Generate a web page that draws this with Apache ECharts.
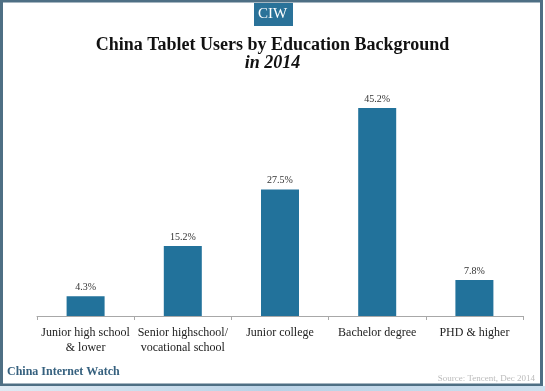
<!DOCTYPE html>
<html><head><meta charset="utf-8">
<style>html,body{margin:0;padding:0;background:#fff;}#c{width:545px;height:391px;}</style>
<script src="https://cdn.jsdelivr.net/npm/echarts@6/dist/echarts.min.js"></script>
</head><body><div id="c"></div>
<script>
var categories = ['Junior high school\n& lower', 'Senior highschool/\nvocational school', 'Junior college', 'Bachelor degree', 'PHD & higher'];
var values = [4.3, 15.2, 27.5, 45.2, 7.8];

var chart = echarts.init(document.getElementById('c'), null, {renderer: 'canvas'});
var serif = '"Liberation Serif", "DejaVu Serif", serif';
chart.setOption({
  backgroundColor: '#fff',
  animation: false,
  title: {
    text: 'China Tablet Users by Education Background',
    subtext: 'in 2014',
    left: 'center', top: 31, itemGap: 0,
    textStyle: {fontFamily: serif, fontWeight: 'bold', fontSize: 18, color: '#111'},
    subtextStyle: {fontFamily: serif, fontWeight: 'bold', fontStyle: 'italic', fontSize: 18, color: '#111'}
  },
  grid: {left: 37, right: 22, top: 86, bottom: 75},
  xAxis: {
    type: 'category', data: categories,
    axisLine: {lineStyle: {color: '#a8a8a8', width: 1}},
    axisTick: {show: true, length: 4, lineStyle: {color: '#a8a8a8'}},
    axisLabel: {fontFamily: serif, fontSize: 12, color: '#222', lineHeight: 15, margin: 9, interval: 0}
  },
  yAxis: {type: 'value', min: 0, max: 50, show: false, splitLine: {show: false}},
  series: [{
    type: 'bar', data: values, barWidth: 38,
    itemStyle: {color: '#22729b'},
    label: {show: true, position: 'top', distance: 4, formatter: function(p){return p.value.toFixed(1)+'%';},
      fontFamily: serif, fontSize: 10, color: '#333'}
  }],
  graphic: [
    {type: 'rect', shape: {x: 1.5, y: 1, width: 540, height: 384}, style: {fill: 'none', stroke: '#4e6f84', lineWidth: 3}, z: 10},
    {type: 'rect', shape: {x: 0, y: 386, width: 545, height: 5}, style: {fill: new echarts.graphic.LinearGradient(0,0,1,0,[{offset:0,color:'#dfeaf3'},{offset:0.5,color:'#b9d2e6'},{offset:1,color:'#cfe0ee'}])}, z: 10},
    {type: 'rect', shape: {x: 254, y: 3, width: 39, height: 23}, style: {fill: '#2a7299'}, z: 11},
    {type: 'text', left: 258, top: 7, style: {text: 'CIW', fontFamily: serif, fontSize: 15, fill: '#fff'}, z: 12},
    {type: 'text', left: 7, top: 366, style: {text: 'China Internet Watch', fontFamily: serif, fontWeight: 'bold', fontSize: 12, fill: '#35607e'}, z: 12},
    {type: 'text', right: 10, top: 374, style: {text: 'Source: Tencent, Dec 2014', fontFamily: serif, fontSize: 9, fill: '#bbbbbb'}, z: 12}
  ]
});
</script></body></html>
